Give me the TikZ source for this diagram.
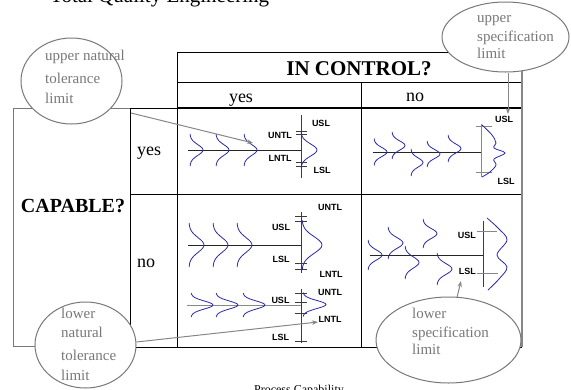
\documentclass[tikz,border=0pt]{standalone}
\usepackage{fontspec}
\setmainfont{Liberation Serif}
\newfontfamily\labfont{Liberation Sans}
\usetikzlibrary{shapes.geometric,arrows.meta}
\definecolor{curveblue}{RGB}{40,40,170}
\definecolor{calloutgray}{RGB}{120,120,120}
\definecolor{linegray}{RGB}{135,135,135}
\definecolor{darkline}{RGB}{60,60,60}
\tikzset{
  pics/bell/.style 2 args={code={\draw[curveblue,line width=0.8pt] plot[domain=-1:1,samples=25,smooth] ({-(#1)+(#1)*exp(-4.5*\x*\x)},{(#2)*\x});}},
  lab/.style={font=\labfont\bfseries\fontsize{9}{9}\selectfont, inner sep=0pt},
  callout/.style={draw=calloutgray, line width=1pt, ellipse, inner sep=0pt, fill=white},
  callouttext/.style={text=calloutgray, font=\fontsize{15}{15}\selectfont, anchor=base west, inner sep=0pt},
  connector/.style={linegray, line width=1pt, -{Stealth[length=6pt,width=4.5pt]}},
  limtick/.style={darkline, line width=0.8pt},
  procline/.style={black!85, line width=0.8pt},
  rule/.style={black, line width=1pt},
  freecurve/.style={curveblue, line width=0.8pt},
}
\begin{document}
\begin{tikzpicture}[x=1pt,y=-1pt]
\useasboundingbox (0,0) rectangle (571,389);
\clip (0,0) rectangle (571,389);

% title (cropped at top) and caption (cropped at bottom)
\node[anchor=base west, inner sep=0pt, font=\fontsize{21}{21}\selectfont] (title) at (50,2.5) {Total Quality Engineering};
\node[anchor=base, inner sep=0pt, font=\fontsize{12}{12}\selectfont] (caption) at (299,393) {Process Capability};

% ---------- table ----------
\draw[calloutgray, line width=1pt] (13,108) rectangle (130,346);
\draw[rule] (130,108) rectangle (177,347);
\draw[rule] (130,194) -- (177,194);
\draw[rule] (177,52) -- (522,52);
\draw[rule] (177,52) -- (177,347);
\draw[rule] (177,82) -- (522,82);
\draw[rule, line width=1.4pt] (177,108) -- (522,108);
\draw[rule] (361,82) -- (361,347);
\draw[rule] (177,194) -- (522,194);
\draw[rule] (177,347) -- (522,347);
\draw[linegray, line width=1.6pt] (522,52) -- (522,347);

\node[font=\bfseries\fontsize{21}{21}\selectfont, anchor=base, inner sep=0pt] (inctl) at (359,75) {IN CONTROL?};
\node[font=\fontsize{18}{18}\selectfont, anchor=base, inner sep=0pt] (hyes) at (241,102) {yes};
\node[font=\fontsize{18}{18}\selectfont, anchor=base, inner sep=0pt] (hno) at (415,101) {no};
\node[font=\fontsize{18}{18}\selectfont, anchor=base west, inner sep=0pt] (ryes) at (137,155) {yes};
\node[font=\fontsize{18}{18}\selectfont, anchor=base west, inner sep=0pt] (rno) at (137,267) {no};
\node[font=\bfseries\fontsize{20}{20}\selectfont, anchor=base, inner sep=0pt] (capable) at (73,212) {CAPABLE?};

% ---------- cell: capable yes / in control yes ----------
\draw[procline] (188,150) -- (301,150);
\draw[limtick] (301,115) -- (301,178);
\foreach \yy in {131,134,162,166} \draw[limtick] (296,\yy) -- (307,\yy);
\pic at (203,150) {bell={13}{16}};
\pic at (229,150) {bell={13}{16}};
\pic at (257,150) {bell={13}{16}};
\pic at (317,150) {bell={16}{18}};
\node[lab] (untl1) at (280,135) {UNTL};
\node[lab] (usl1) at (321,123) {USL};
\node[lab] (lntl1) at (280,158.5) {LNTL};
\node[lab] (lsl1) at (322,170) {LSL};

% ---------- cell: capable yes / in control no ----------
\draw[procline] (373,152) -- (481,152);
\draw[linegray, line width=1pt] (481,124) -- (481,177);
\draw[linegray, line width=1pt] (476,126.5) -- (492,126.5);
\draw[linegray, line width=1pt] (476,172.5) -- (492,172.5);
\pic at (387,152) {bell={13}{13.5}};
\pic at (405,145.5) {bell={13}{13.5}};
\pic at (423,162.5) {bell={12}{13.5}};
\pic at (440,154) {bell={13}{13}};
\pic at (461,148.5) {bell={13}{13.5}};
\draw[freecurve] plot[smooth, tension=0.6] coordinates {(482,125) (492,135) (496,143) (494,148) (505,153) (494,159) (496,165) (490,172) (482,177)};
\node[lab] (usl2) at (504,119.5) {USL};
\node[lab] (lsl2) at (506,181) {LSL};

% ---------- cell: capable no / in control yes (upper) ----------
\draw[procline] (188,245) -- (301,245);
\draw[limtick] (301,212) -- (301,273);
\foreach \yy in {216,221.5,263,269} \draw[limtick] (295,\yy) -- (307,\yy);
\pic at (204,245) {bell={15}{22}};
\pic at (228,245) {bell={15}{22}};
\pic at (252,245) {bell={15}{22}};
\pic at (322,245) {bell={20}{25}};
\node[lab] (untl3) at (330,207.5) {UNTL};
\node[lab] (usl3) at (281,227.5) {USL};
\node[lab] (lsl3) at (281,259) {LSL};
\node[lab] (lntl3) at (331,274.5) {LNTL};

% ---------- cell: capable no / in control yes (lower) ----------
\draw[linegray, line width=1pt] (187,305) -- (301,305);
\draw[limtick] (301,289) -- (301,343);
\foreach \yy in {293.5,302.5,313.5,341.5} \draw[limtick] (295,\yy) -- (307,\yy);
\pic at (213,305) {bell={22}{12}};
\pic at (238,305) {bell={22}{12}};
\pic at (265,305) {bell={22}{12}};
\pic at (326,304.5) {bell={23}{12}};
\node[lab] (untl4) at (330,292.5) {UNTL};
\node[lab] (usl4) at (280.5,300) {USL};
\node[lab] (lntl4) at (330,319.5) {LNTL};
\node[lab] (lsl4) at (280.5,337) {LSL};

% ---------- cell: capable no / in control no ----------
\draw[procline] (370,255) -- (483,255);
\draw[limtick] (483,221) -- (483,287);
\draw[linegray, line width=1pt] (477,231) -- (497,231);
\draw[linegray, line width=1pt] (477,273) -- (498,273);
\pic at (382,255) {bell={14}{15}};
\pic at (403,243) {bell={15}{16}};
\pic at (419,262.5) {bell={14}{16.5}};
\pic at (437,233.5) {bell={14}{14.5}};
\pic at (452,269) {bell={15}{16}};
\draw[freecurve] plot[smooth, tension=0.6] coordinates {(487,218) (499,229) (507,240) (497,255) (507,267) (499,279) (488,290)};
\node[lab, anchor=east] (usl5) at (476,235) {USL};
\node[lab, anchor=east] (lsl5) at (476,271) {LSL};

% ---------- callouts ----------
\coordinate (a1s) at (131,113);
\coordinate (a1e) at (253,143);
\draw[connector] (a1s) -- (a1e);

\node[callout, minimum width=101pt, minimum height=86pt] (eul) at (71.5,81) {};
\node[callouttext] (tul1) at (45,60) {upper natural};
\node[callouttext] (tul2) at (45,83) {tolerance};
\node[callouttext] (tul3) at (45,103) {limit};

\node[callout, minimum width=127pt, minimum height=70pt] (eur) at (505.5,37) {};
\coordinate (a2e) at (508,114);
\draw[connector] (eur.south -| a2e) -- (a2e);
\node[callouttext] (tur1) at (477,22) {upper};
\node[callouttext] (tur2) at (477,41) {specification};
\node[callouttext] (tur3) at (477,58) {limit};

\coordinate (a3e) at (318,322);
\node[callout, minimum width=101pt, minimum height=86pt] (ebl) at (85.5,345) {};
\draw[connector] (ebl.east) ++(0,-3) -- (a3e);
\node[callouttext] (tbl1) at (61,318) {lower};
\node[callouttext] (tbl2) at (61,337) {natural};
\node[callouttext] (tbl3) at (61,360) {tolerance};
\node[callouttext] (tbl4) at (61,380) {limit};

\node[callout, minimum width=145pt, minimum height=86pt] (ebr) at (448.5,340) {};
\coordinate (a4s) at (457,297.5);
\coordinate (a4e) at (461,281);
\draw[connector] (a4s) -- (a4e);
\node[callouttext] (tbr1) at (412,318) {lower};
\node[callouttext] (tbr2) at (412,337) {specification};
\node[callouttext] (tbr3) at (412,354) {limit};
\end{tikzpicture}
\end{document}
